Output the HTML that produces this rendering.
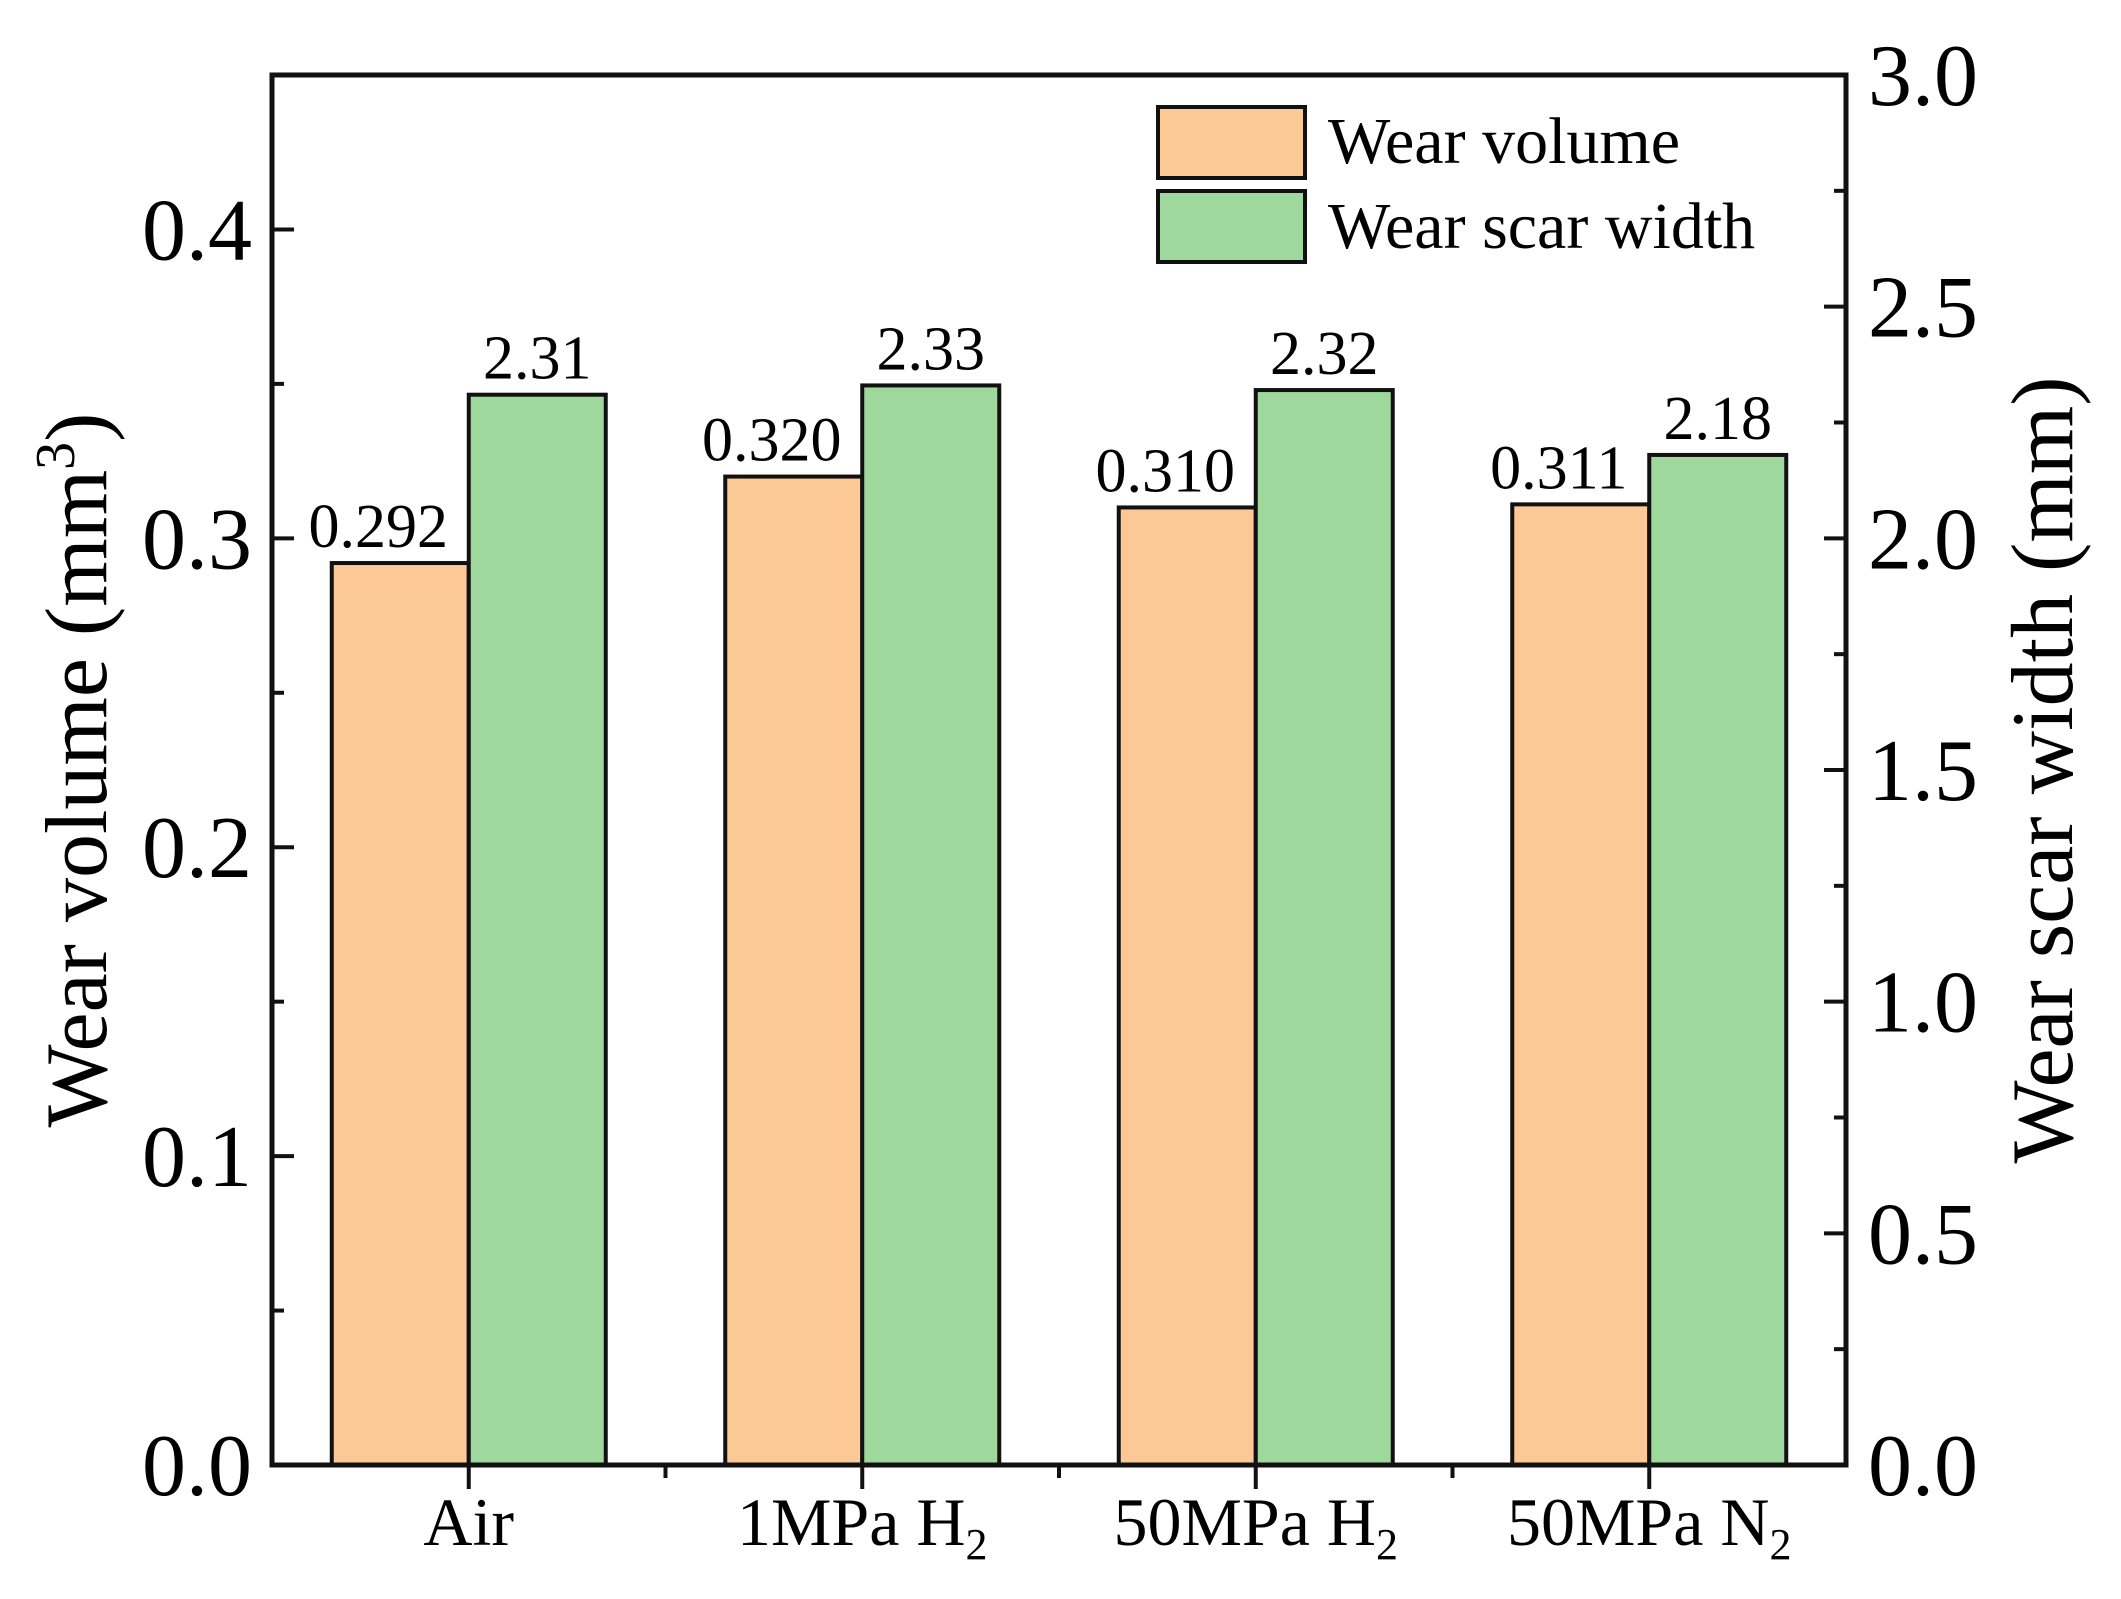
<!DOCTYPE html>
<html><head><meta charset="utf-8"><style>
html,body{margin:0;padding:0;background:#fff;}
svg{display:block;font-family:"Liberation Serif","Times New Roman",serif;}
</style></head><body>
<svg id="chart" width="2121" height="1599" viewBox="0 0 2121 1599" xmlns="http://www.w3.org/2000/svg">
<g id="bars"></g>
<g id="axes"></g>
<g>
<rect x="1158" y="107" width="147" height="71" fill="#FBC896" stroke="#111" stroke-width="4"/>
<text x="1328" y="163" font-size="66">Wear volume</text>
<rect x="1158" y="191" width="147" height="71" fill="#9ED89C" stroke="#111" stroke-width="4"/>
<text x="1328" y="248" font-size="66">Wear scar width</text>
</g>
<text transform="translate(106,770) rotate(-90)" text-anchor="middle" font-size="88">Wear volume (mm<tspan dy="-32" font-size="56">3</tspan><tspan dy="32">)</tspan></text>
<text transform="translate(2072,770) rotate(-90)" text-anchor="middle" font-size="88">Wear scar width (mm)</text>
</svg>
<script>
const categories = ["Air", "1MPa H", "50MPa H", "50MPa N"];
const subscripts = ["", "2", "2", "2"];
const wearVolume = [0.292, 0.320, 0.310, 0.311];
const wearVolumeLabels = ["0.292", "0.320", "0.310", "0.311"];
const scarWidth = [2.31, 2.33, 2.32, 2.18];
const scarWidthLabels = ["2.31", "2.33", "2.32", "2.18"];
const leftTicks = [0.0, 0.1, 0.2, 0.3, 0.4];
const leftTickLabels = ["0.0", "0.1", "0.2", "0.3", "0.4"];
const rightTicks = [0.0, 0.5, 1.0, 1.5, 2.0, 2.5, 3.0];
const rightTickLabels = ["0.0", "0.5", "1.0", "1.5", "2.0", "2.5", "3.0"];

const NS = "http://www.w3.org/2000/svg";
const L = 272, R = 1846, T = 75, B = 1465;
const yL = v => B - v / 0.45 * (B - T);
const yR = v => B - v / 3.0 * (B - T);
const xC = i => L + (i + 0.5) * (R - L) / 4;
const BW = 137;

function mk(tag, attrs, parent, txt) {
  const e = document.createElementNS(NS, tag);
  for (const k in attrs) e.setAttribute(k, attrs[k]);
  if (txt !== undefined) e.textContent = txt;
  parent.appendChild(e);
  return e;
}
const bars = document.getElementById('bars');
const axes = document.getElementById('axes');

categories.forEach((c, i) => {
  const cx = xC(i);
  const y1 = yL(wearVolume[i]);
  const r1 = mk('rect', {x: cx - BW, y: y1, width: BW, height: B - y1, fill: '#FBC896', stroke: '#111', 'stroke-width': 4}, bars);
  
  
  const y2 = yR(scarWidth[i]);
  const r2 = mk('rect', {x: cx, y: y2, width: BW, height: B - y2, fill: '#9ED89C', stroke: '#111', 'stroke-width': 4}, bars);
  
  
  const t1 = mk('text', {x: cx - BW / 2 - 22, y: y1 - 16, 'text-anchor': 'middle', 'font-size': 62}, bars, wearVolumeLabels[i]);
  
  
  const t2 = mk('text', {x: cx + BW / 2, y: y2 - 16, 'text-anchor': 'middle', 'font-size': 62}, bars, scarWidthLabels[i]);
  
  
  const xl = mk('text', {x: cx, y: 1545, 'text-anchor': 'middle', 'font-size': 68}, axes, c);
  if (subscripts[i]) mk('tspan', {'font-size': 44, dy: 14}, xl, subscripts[i]);
  
  
  mk('line', {x1: cx, x2: cx, y1: B, y2: B + 24, stroke: '#111', 'stroke-width': 4}, axes);
  if (i < 3) mk('line', {x1: cx + (R - L) / 8, x2: cx + (R - L) / 8, y1: B, y2: B + 13, stroke: '#111', 'stroke-width': 4}, axes);
});

const frame = mk('rect', {x: L, y: T, width: R - L, height: B - T, fill: 'none', stroke: '#111', 'stroke-width': 5}, axes);



leftTicks.forEach((v, i) => {
  const y = yL(v);
  mk('line', {x1: L, x2: L + 22, y1: y, y2: y, stroke: '#111', 'stroke-width': 4}, axes);
  mk('line', {x1: L, x2: L + 12, y1: yL(v + 0.05), y2: yL(v + 0.05), stroke: '#111', 'stroke-width': 4}, axes);
  const t = mk('text', {x: 252, y: y + 30, 'text-anchor': 'end', 'font-size': 88}, axes, leftTickLabels[i]);
  
  
});
rightTicks.forEach((v, i) => {
  const y = yR(v);
  mk('line', {x1: R, x2: R - 22, y1: y, y2: y, stroke: '#111', 'stroke-width': 4}, axes);
  if (v < 3) mk('line', {x1: R, x2: R - 12, y1: yR(v + 0.25), y2: yR(v + 0.25), stroke: '#111', 'stroke-width': 4}, axes);
  const t = mk('text', {x: 1868, y: y + 30, 'text-anchor': 'start', 'font-size': 88}, axes, rightTickLabels[i]);
  
  
});
</script>
</body></html>
